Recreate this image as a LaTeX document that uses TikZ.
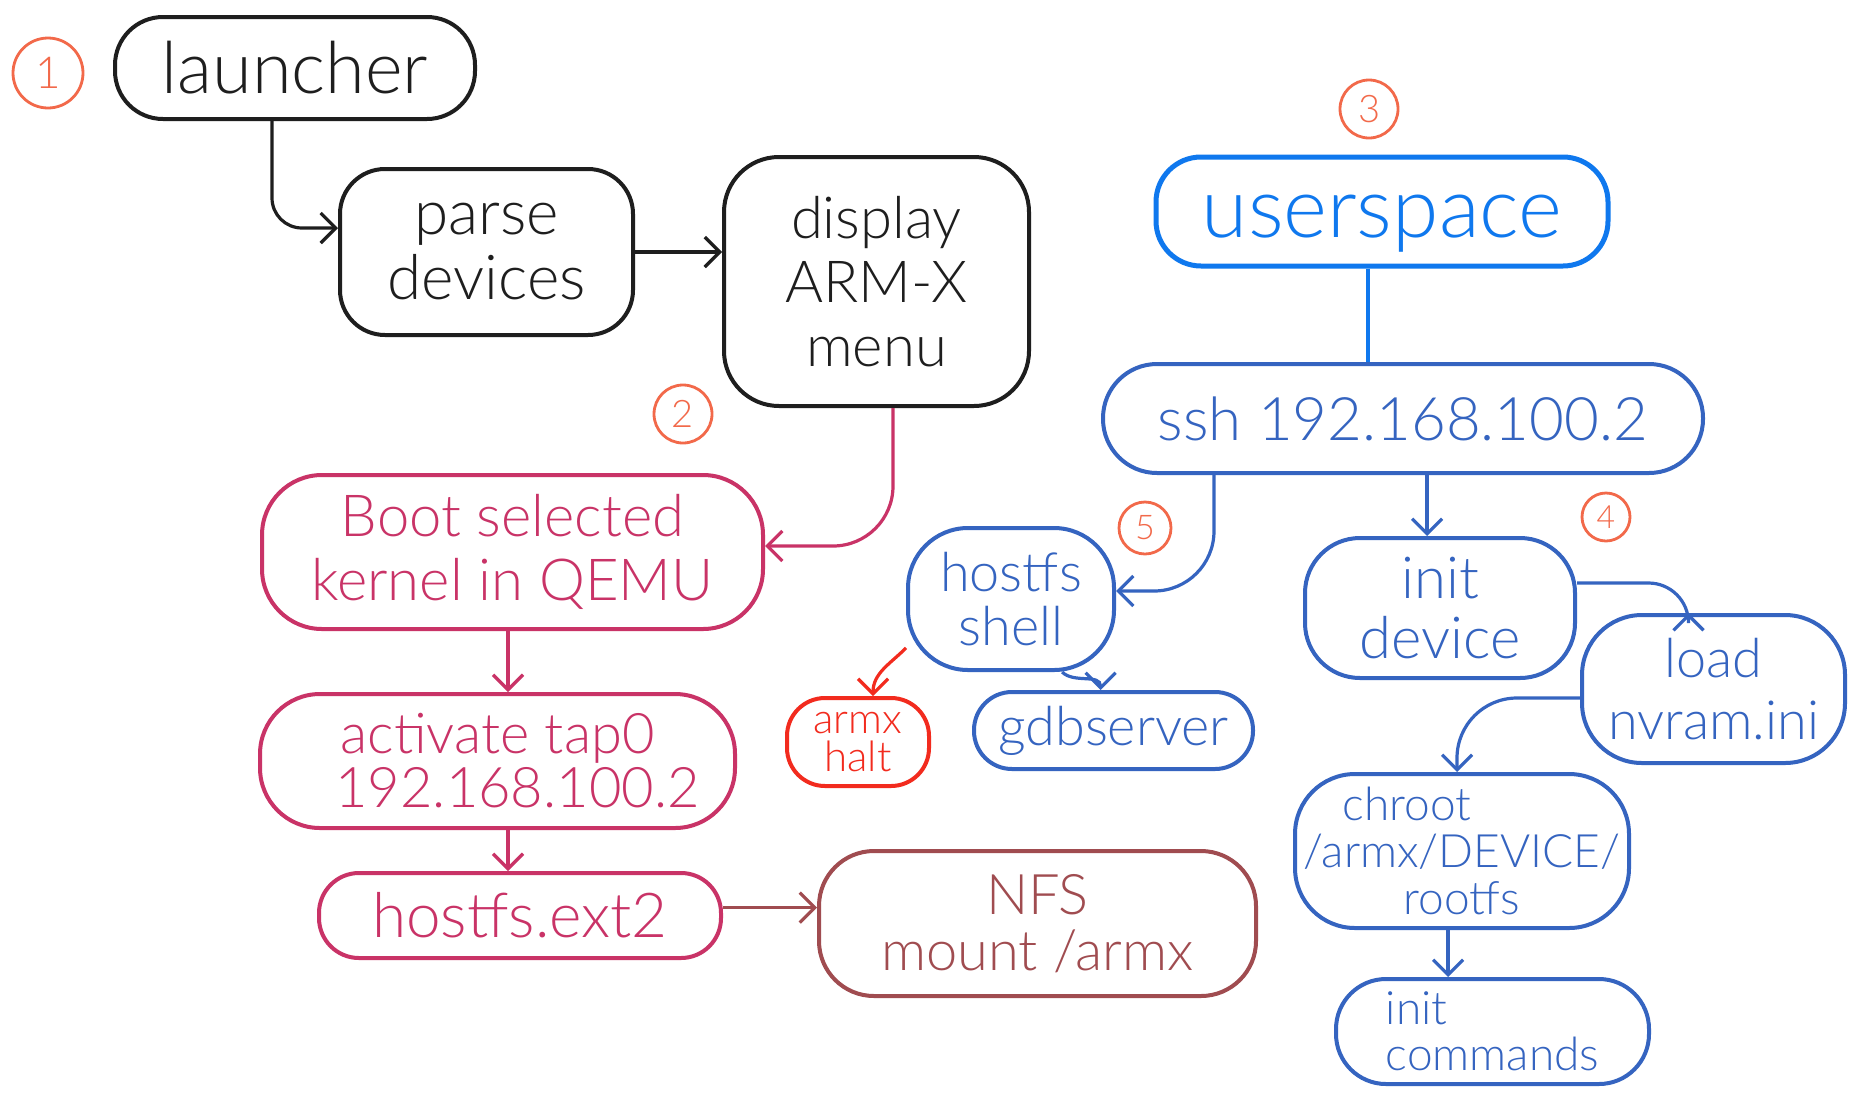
\documentclass[tikz,border=0pt]{standalone}
\usepackage{fontspec}
\setmainfont{Lato}[UprightFont={* Light}]
\usetikzlibrary{arrows.meta}
\definecolor{ink}{HTML}{1E1E1E}
\definecolor{bootc}{HTML}{C93367}
\definecolor{nfsc}{HTML}{A04C50}
\definecolor{haltc}{HTML}{F22B1E}
\definecolor{userc}{HTML}{0F78EE}
\definecolor{bluec}{HTML}{3564C0}
\definecolor{numc}{HTML}{F2694A}
\newcommand{\fsz}[2]{\fontsize{#1}{#2}\selectfont}
\begin{document}
\begin{tikzpicture}[x=1pt,y=-1pt,
  box/.style={draw, line width=4pt, rounded corners=#1, align=center, inner sep=0pt},
  numcirc/.style={draw=numc, text=numc, circle, line width=2.8pt, inner sep=0pt},
  arr/.style={line width=3.2pt, -{Straight Barb[length=15pt,width=30pt,line width=3.2pt]}},
  plain/.style={line width=3.6pt}]
\useasboundingbox[fill=white] (0,0) rectangle (1854,1101);

% numbered circles
\node[numcirc, minimum size=70pt, font=\fsz{44}{48}] (c1) at (48,73) {1};
\node[numcirc, minimum size=58pt, font=\fsz{38}{42}] (c3) at (1369,109) {3};
\node[numcirc, minimum size=58pt, font=\fsz{38}{42}] (c2) at (683,414) {2};
\node[numcirc, minimum size=52pt, font=\fsz{34}{38}] (c5) at (1145,528) {5};
\node[numcirc, minimum size=48pt, font=\fsz{32}{36}] (c4) at (1606,517) {4};

% black group
\node[box=48, ink, minimum width=360pt, minimum height=102pt, font=\fsz{72}{74}] (launcher) at (295,68) {launcher};
\node[box=45, ink, minimum width=293pt, minimum height=166pt, font=\fsz{62}{65}] (parse) at (486.5,252) {parse\\devices};
\node[box=55, ink, minimum width=305pt, minimum height=249pt, font=\fsz{58}{64}] (display) at (876.5,281.5) {display\\ARM-X\\menu};

% pink group
\node[box=60, bootc, minimum width=501pt, minimum height=154pt, font=\fsz{58}{64}] (boot) at (512.5,552) {Boot selected\\kernel in QEMU};
\node[box=60, bootc, minimum width=475pt, minimum height=134pt, font=\fsz{56}{54}] (activate) at (497.5,761) {activate tap0\\\hspace*{40pt}192.168.100.2};
\node[box=40, bootc, minimum width=402pt, minimum height=85pt, font=\fsz{62}{64}] (ext2) at (520,915.5) {hostfs.ext2};
\node[box=55, nfsc, minimum width=437pt, minimum height=145pt, font=\fsz{56}{56}] (nfs) at (1037.5,923.5) {NFS\\mount /armx};

% blue group
\node[box=45, userc, line width=5pt, minimum width=452pt, minimum height=109pt, font=\fsz{84}{84}] (user) at (1382,211.5) {\raisebox{-12pt}{\smash{userspace}}\vphantom{userspace}};
\node[box=54, bluec, minimum width=600pt, minimum height=109pt, font=\fsz{60}{60}] (ssh) at (1403,418.5) {ssh 192.168.100.2};
\node[box=60, bluec, minimum width=206pt, minimum height=142pt, font=\fsz{54}{54}] (shell) at (1011,599) {hostfs\\shell};
\node[box=55, bluec, minimum width=270pt, minimum height=140pt, font=\fsz{58}{60}] (initdev) at (1440,608) {init\\device};
\node[box=60, bluec, minimum width=263pt, minimum height=148pt, font=\fsz{54}{62}] (load) at (1713.5,689) {load\\nvram.ini};
\node[box=38, haltc, minimum width=142pt, minimum height=88pt, font=\fsz{42}{38}] (halt) at (858,742) {armx\\halt};
\node[box=38, bluec, minimum width=279pt, minimum height=77pt, font=\fsz{54}{56}] (gdb) at (1113.5,730.5) {gdbserver};
\node[box=60, bluec, minimum width=334pt, minimum height=154pt, font=\fsz{46}{47}] (chroot) at (1462,851) {chroot\hspace*{110pt}\\/armx/DEVICE/\\rootfs};
\node[box=50, bluec, minimum width=313pt, minimum height=105pt, font=\fsz{46}{46}, align=left] (initcmd) at (1492.5,1031.5) {init\\commands};

% connectors
\draw[arr, ink, rounded corners=30pt] ([xshift=-23pt]launcher.south) |- ([yshift=24pt]parse.west);
\draw[arr, ink] (parse.east) -- (parse.east -| display.west);
\draw[arr, bootc, rounded corners=60pt] ([xshift=16.5pt]display.south) |- ([yshift=6pt]boot.east);
\draw[arr, bootc] ([xshift=-12pt]ext2.north |- boot.south) -- ([xshift=-12pt]ext2.north |- activate.north);
\draw[arr, bootc] ([xshift=-12pt]ext2.north |- activate.south) -- ([xshift=-12pt]ext2.north);
\draw[arr, nfsc] ([yshift=8pt]ext2.east) -- ([yshift=8pt]ext2.east -| nfs.west);

\draw[plain, userc] ([xshift=-14pt]user.south) -- ([xshift=-14pt]user.south |- ssh.north);
\draw[arr, bluec, rounded corners=60pt] ([xshift=-189pt]ssh.south) |- ([yshift=8pt]shell.east);
\draw[arr, bluec] ([xshift=-13pt]initdev.north |- ssh.south) -- ([xshift=-13pt]initdev.north);
\draw[arr, bluec, rounded corners=40pt] ([yshift=25pt]initdev.east) -| ([xshift=-25pt]load.north);
\draw[arr, bluec, rounded corners=60pt] ([yshift=-9pt]load.west) -| ([xshift=-5pt]chroot.north);
\draw[arr, bluec] ([xshift=-14pt]chroot.south) -- ([xshift=-14pt]chroot.south |- initcmd.north);
\draw[arr, haltc] (shell.205) to[out=225,in=90] ([xshift=15pt]halt.north);
\draw[arr, bluec] (shell.305) to[out=-45,in=90] ([xshift=-13pt]gdb.north);
\end{tikzpicture}
\end{document}
